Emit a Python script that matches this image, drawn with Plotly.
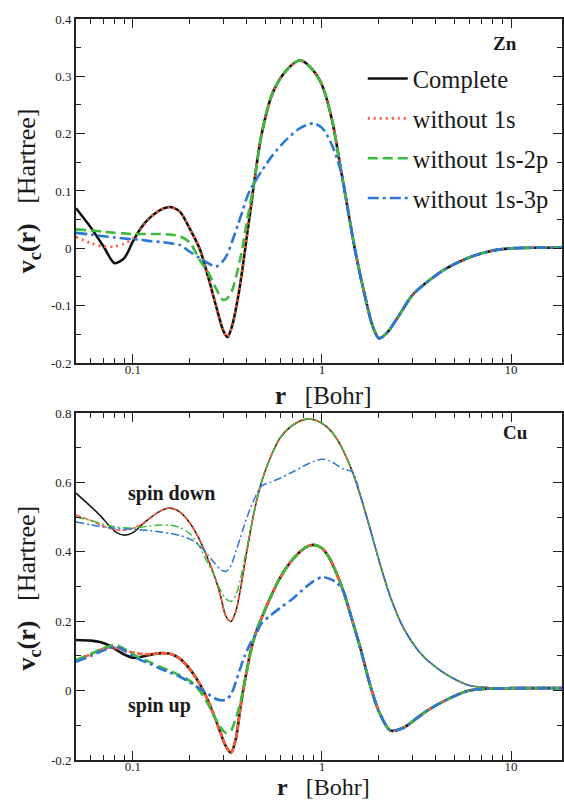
import math
import plotly.graph_objects as go

# ---------------- data ----------------
R_ZN = [0.05, 0.06, 0.07, 0.08, 0.09, 0.1, 0.11, 0.12, 0.14, 0.157, 0.177, 0.2, 0.225, 0.25,
        0.275, 0.3, 0.316, 0.335, 0.36, 0.38, 0.4, 0.42, 0.44, 0.48, 0.55, 0.65, 0.77, 0.9,
        1.0, 1.13, 1.27, 1.4, 1.5, 1.7, 1.85, 2.0, 2.2, 2.5, 3.0, 3.5, 4.5, 6.0, 8.0, 10.0,
        14.0, 20.0]

ZN_COMPLETE = [0.070, 0.036, 0.003, -0.026, -0.017, 0.012, 0.035, 0.050, 0.067, 0.072, 0.064,
               0.034, 0.0, -0.05, -0.10, -0.143, -0.155, -0.135, -0.085, -0.035, 0.02, 0.07,
               0.12, 0.2, 0.272, 0.311, 0.328, 0.31, 0.285, 0.224, 0.13, 0.05, -0.005, -0.088,
               -0.135, -0.157, -0.148, -0.122, -0.082, -0.062, -0.036, -0.016, -0.004, 0.0,
               0.001, 0.001]

ZN_NO1S = [0.020, 0.009, 0.003, 0.003, 0.008, 0.017, 0.034, 0.050, 0.067, 0.072, 0.064,
           0.034, 0.0, -0.05, -0.10, -0.143, -0.155, -0.135, -0.085, -0.035, 0.02, 0.07,
           0.12, 0.2, 0.272, 0.311, 0.328, 0.31, 0.285, 0.224, 0.13, 0.05, -0.005, -0.088,
           -0.135, -0.157, -0.148, -0.122, -0.082, -0.062, -0.036, -0.016, -0.004, 0.0,
           0.001, 0.001]

ZN_NO1S2P = [0.033, 0.031, 0.029, 0.027, 0.026, 0.025, 0.025, 0.025, 0.025, 0.024, 0.021,
             0.01, -0.02, -0.042, -0.07, -0.09, -0.087, -0.073, -0.035, 0.002, 0.045, 0.082,
             0.12, 0.2, 0.272, 0.311, 0.328, 0.31, 0.285, 0.224, 0.13, 0.05, -0.005, -0.088,
             -0.135, -0.157, -0.148, -0.122, -0.082, -0.062, -0.036, -0.016, -0.004, 0.0,
             0.001, 0.001]

ZN_NO1S3P = [0.027, 0.024, 0.021, 0.019, 0.017, 0.016, 0.015, 0.013, 0.011, 0.009, 0.006,
             -0.006, -0.017, -0.026, -0.032, -0.022, -0.01, 0.012, 0.042, 0.065, 0.088, 0.104,
             0.115, 0.135, 0.163, 0.19, 0.21, 0.218, 0.21, 0.18, 0.13, 0.05, -0.005, -0.088,
             -0.135, -0.157, -0.148, -0.122, -0.082, -0.062, -0.036, -0.016, -0.004, 0.0,
             0.001, 0.001]

R_CU = [0.05, 0.06, 0.067, 0.075, 0.082, 0.09, 0.1, 0.11, 0.123, 0.14, 0.157, 0.177, 0.2,
        0.225, 0.25, 0.27, 0.29, 0.31, 0.33, 0.35, 0.37, 0.39, 0.42, 0.45, 0.48, 0.53, 0.6,
        0.7, 0.82, 0.9, 1.0, 1.1, 1.2, 1.3, 1.45, 1.6, 1.8, 2.0, 2.3, 2.7, 3.2, 3.6, 4.5,
        6.0, 8.0, 10.0, 20.0]

CU_DOWN_COMPLETE = [0.569, 0.53, 0.505, 0.475, 0.455, 0.448, 0.455, 0.475, 0.497, 0.518, 0.526,
                    0.515, 0.483, 0.435, 0.378, 0.33, 0.275, 0.215, 0.199, 0.228, 0.29, 0.365,
                    0.465, 0.545, 0.603, 0.668, 0.728, 0.765, 0.782, 0.781, 0.77, 0.752, 0.725,
                    0.69, 0.63, 0.56, 0.465, 0.376, 0.27, 0.18, 0.118, 0.088, 0.048, 0.015,
                    0.008, 0.007, 0.007]

CU_DOWN_NO1S = [0.506, 0.49, 0.478, 0.468, 0.463, 0.462, 0.468, 0.478, 0.497, 0.518, 0.526,
                0.515, 0.483, 0.435, 0.378, 0.33, 0.275, 0.215, 0.199, 0.228, 0.29, 0.365,
                0.465, 0.545, 0.603, 0.668, 0.728, 0.765, 0.782, 0.781, 0.77, 0.752, 0.725,
                0.69, 0.63, 0.56, 0.465, 0.376, 0.27, 0.18, 0.118, 0.088, 0.048, 0.015,
                0.008, 0.007, 0.007]

CU_DOWN_NO1S2P = [0.50, 0.49, 0.482, 0.475, 0.471, 0.469, 0.469, 0.471, 0.474, 0.477, 0.477,
                  0.47, 0.452, 0.415, 0.365, 0.33, 0.29, 0.265, 0.257, 0.275, 0.32, 0.38,
                  0.465, 0.545, 0.603, 0.668, 0.728, 0.765, 0.782, 0.781, 0.77, 0.752, 0.725,
                  0.69, 0.63, 0.56, 0.465, 0.376, 0.27, 0.18, 0.118, 0.088, 0.048, 0.015,
                  0.008, 0.007, 0.007]

CU_DOWN_NO1S3P = [0.486, 0.478, 0.473, 0.469, 0.467, 0.466, 0.465, 0.463, 0.461, 0.457, 0.453,
                  0.447, 0.437, 0.418, 0.39, 0.368, 0.35, 0.343, 0.36, 0.40, 0.44, 0.48,
                  0.528, 0.565, 0.59, 0.60, 0.612, 0.63, 0.65, 0.66, 0.667, 0.662, 0.65,
                  0.638, 0.63, 0.56, 0.465, 0.376, 0.27, 0.18, 0.118, 0.088, 0.048, 0.015,
                  0.008, 0.007, 0.007]

CU_UP_COMPLETE = [0.146, 0.144, 0.14, 0.13, 0.117, 0.104, 0.095, 0.097, 0.103, 0.108, 0.106,
                  0.092, 0.062, 0.02, -0.03, -0.075, -0.12, -0.16, -0.179, -0.14, -0.05, 0.025,
                  0.115, 0.172, 0.21, 0.265, 0.325, 0.378, 0.413, 0.42, 0.41, 0.38, 0.335,
                  0.285, 0.2, 0.12, 0.015, -0.06, -0.115, -0.107, -0.078, -0.058, -0.028, 0.0,
                  0.006, 0.007, 0.007]

CU_UP_NO1S = [0.088, 0.105, 0.117, 0.124, 0.122, 0.115, 0.11, 0.106, 0.105, 0.108, 0.106,
              0.092, 0.062, 0.02, -0.03, -0.075, -0.12, -0.16, -0.179, -0.14, -0.05, 0.025,
              0.115, 0.172, 0.21, 0.265, 0.325, 0.378, 0.413, 0.42, 0.41, 0.38, 0.335,
              0.285, 0.2, 0.12, 0.015, -0.06, -0.115, -0.107, -0.078, -0.058, -0.028, 0.0,
              0.006, 0.007, 0.007]

CU_UP_NO1S2P = [0.088, 0.106, 0.118, 0.128, 0.131, 0.12, 0.105, 0.093, 0.082, 0.068, 0.057,
                0.044, 0.028, 0.0, -0.04, -0.075, -0.105, -0.122, -0.115, -0.08, -0.035, 0.025,
                0.11, 0.172, 0.21, 0.265, 0.325, 0.378, 0.413, 0.42, 0.41, 0.38, 0.335,
                0.285, 0.2, 0.12, 0.015, -0.06, -0.115, -0.107, -0.078, -0.058, -0.028, 0.0,
                0.006, 0.007, 0.007]

CU_UP_NO1S3P = [0.083, 0.10, 0.112, 0.122, 0.126, 0.116, 0.099, 0.088, 0.077, 0.063, 0.052,
                0.04, 0.024, 0.006, -0.01, -0.022, -0.028, -0.026, -0.012, 0.025, 0.065, 0.10,
                0.138, 0.165, 0.195, 0.215, 0.238, 0.265, 0.298, 0.315, 0.327, 0.322, 0.31,
                0.285, 0.2, 0.12, 0.015, -0.06, -0.115, -0.107, -0.078, -0.058, -0.028, 0.0,
                0.006, 0.007, 0.007]

SERIES_NAMES = ["Complete", "without 1s", "without 1s-2p", "without 1s-3p"]

X_TICKS = [0.1, 1, 10]
X_TICK_TEXT = ["0.1", "1", "10"]
X_MINOR = [0.06, 0.07, 0.08, 0.09, 0.2, 0.3, 0.4, 0.5, 0.6, 0.7, 0.8, 0.9,
           2, 3, 4, 5, 6, 7, 8, 9]
Y1_TICKS = [-0.2, -0.1, 0, 0.1, 0.2, 0.3, 0.4]
Y1_TICK_TEXT = ["-0.2", "-0.1", "0", "0.1", "0.2", "0.3", "0.4"]
Y1_MINOR = [-0.15, -0.05, 0.05, 0.15, 0.25, 0.35]
Y2_TICKS = [-0.2, 0, 0.2, 0.4, 0.6, 0.8]
Y2_TICK_TEXT = ["-0.2", "0", "0.2", "0.4", "0.6", "0.8"]
Y2_MINOR = [-0.1, 0.1, 0.3, 0.5, 0.7]

# ---------------- styles ----------------
FONT = "Liberation Serif, Tinos, Times New Roman, Times, DejaVu Serif, serif"
TXT = "#1a1a1a"
COLORS = ["#111111", "#ff5a36", "#3dbb3d", "#2a77d6"]
DASHES = ["solid", "2px,4px", "10px,5px", "11px,4px,3px,4px"]
DASHES_THIN = ["solid", "5px,2px", "8px,3px,2px,3px", "8px,3px,2px,3px"]
DASHES_UP = ["solid", "6px,2px", "10px,5px", "11px,4px,3px,4px"]

fig = go.Figure()


def add(x, y, i, xa, ya, width, dashes, show):
    fig.add_trace(go.Scatter(
        x=x, y=y, mode="lines", name=SERIES_NAMES[i],
        line=dict(color=COLORS[i], dash=dashes[i], width=width, shape="spline", smoothing=0.8),
        xaxis=xa, yaxis=ya, showlegend=show, legendgroup=SERIES_NAMES[i]))


zn = [ZN_COMPLETE, ZN_NO1S, ZN_NO1S2P, ZN_NO1S3P]
for i, ys in enumerate(zn):
    add(R_ZN, ys, i, "x", "y", 2.6, DASHES, True)

cu_down = [CU_DOWN_COMPLETE, CU_DOWN_NO1S, CU_DOWN_NO1S2P, CU_DOWN_NO1S3P]
for i, ys in enumerate(cu_down):
    add(R_CU, ys, i, "x2", "y2", 1.5, DASHES_THIN, False)

cu_up = [CU_UP_COMPLETE, CU_UP_NO1S, CU_UP_NO1S2P, CU_UP_NO1S3P]
for i, ys in enumerate(cu_up):
    add(R_CU, ys, i, "x2", "y2", 2.6, DASHES_UP, False)

XR = [math.log10(0.05), math.log10(18.6)]

axis_common = dict(
    showline=True, linecolor="#222", linewidth=1.6, mirror="ticks",
    ticks="inside", ticklen=9, tickwidth=1.3, tickcolor="#222",
    showgrid=False, zeroline=False,
    tickfont=dict(family=FONT, size=13, color=TXT),
)


def xaxis(anchor):
    d = dict(axis_common)
    d.update(type="log", range=XR, anchor=anchor, tickmode="array",
             tickvals=X_TICKS, ticktext=X_TICK_TEXT, ticklabelstandoff=-6,
             minor=dict(tickmode="array", tickvals=X_MINOR, ticks="inside", ticklen=5,
                        tickwidth=1.1, tickcolor="#222", showgrid=False))
    return d


def yaxis(anchor, rng, dom, tv, tt, mn):
    d = dict(axis_common)
    d.update(range=rng, domain=dom, anchor=anchor, tickmode="array", tickvals=tv,
             ticktext=tt,
             minor=dict(tickmode="array", tickvals=mn, ticks="inside", ticklen=5,
                        tickwidth=1.1, tickcolor="#222", showgrid=False))
    return d


TOP_DOM = [0.5358, 1.0]
BOT_DOM = [0.0, 0.4683]

fig.update_layout(
    width=564, height=801,
    margin=dict(l=76, r=0, t=19, b=41),
    paper_bgcolor="white", plot_bgcolor="white",
    font=dict(family=FONT, color=TXT),
    xaxis=xaxis("y"),
    yaxis=yaxis("x", [-0.2, 0.4], TOP_DOM, Y1_TICKS, Y1_TICK_TEXT, Y1_MINOR),
    xaxis2=xaxis("y2"),
    yaxis2=yaxis("x2", [-0.2, 0.8], BOT_DOM, Y2_TICKS, Y2_TICK_TEXT, Y2_MINOR),
    legend=dict(x=0.59, y=0.95, xanchor="left", yanchor="top",
                font=dict(family=FONT, size=24.5, color=TXT),
                bgcolor="rgba(0,0,0,0)", tracegroupgap=5, itemwidth=40),
    showlegend=True,
)

ann = [
    dict(text="<b>r</b>   [Bohr]", x=0.51, y=0.4925, size=25, angle=0),
    dict(text="<b>r</b>   [Bohr]", x=0.51, y=-0.0365, size=24, angle=0),
    dict(text="<b>v<sub>c</sub>(r)</b>   [Hartree]", x=-0.098, y=0.768, size=26, angle=-90),
    dict(text="<b>v<sub>c</sub>(r)</b>   [Hartree]", x=-0.098, y=0.232, size=26, angle=-90),
    dict(text="<b>Zn</b>", x=0.883, y=0.9676, size=19, angle=0),
    dict(text="<b>Cu</b>", x=0.904, y=0.4426, size=19, angle=0),
    dict(text="<b>spin down</b>", x=0.1967, y=0.3603, size=20, angle=0),
    dict(text="<b>spin up</b>", x=0.172, y=0.0729, size=20, angle=0),
]
for a in ann:
    fig.add_annotation(text=a["text"], x=a["x"], y=a["y"], xref="paper", yref="paper",
                       showarrow=False, textangle=a["angle"], xanchor="center",
                       yanchor="middle", font=dict(family=FONT, size=a["size"], color=TXT))

fig.write_html("out.html")
